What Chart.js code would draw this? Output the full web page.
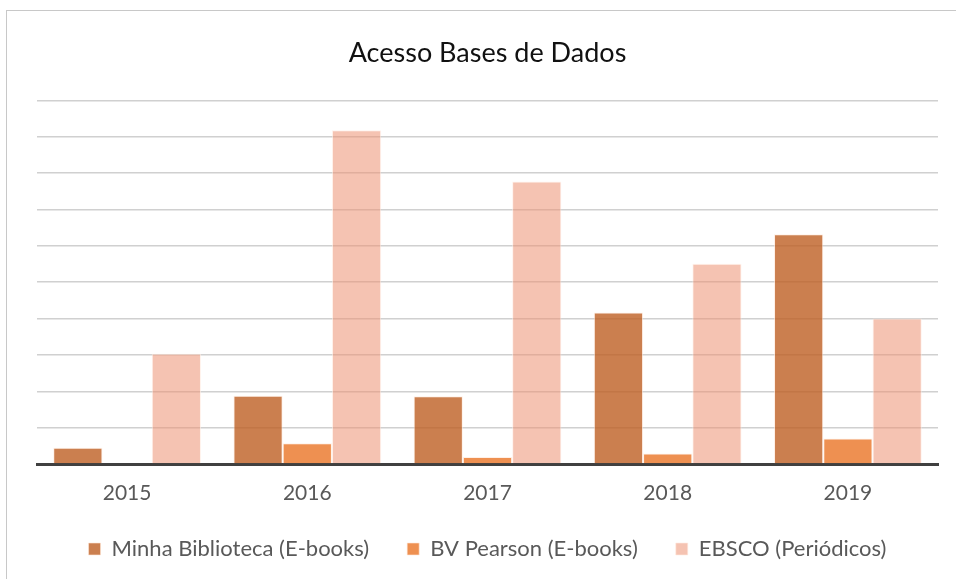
<!DOCTYPE html>
<html>
<head>
<meta charset="utf-8">
<script src="https://cdn.jsdelivr.net/npm/chart.js@4.4.0/dist/chart.umd.min.js"></script>
<style>
  html, body { margin: 0; padding: 0; background: #ffffff; overflow: hidden; }
  #frame { position: absolute; left: 6px; top: 10px; width: 980px; height: 600px; border: 1.5px solid #c8c8c8; box-sizing: border-box; }
  #wrap { position: absolute; left: 0; top: 0; width: 956px; height: 579px; }
</style>
</head>
<body>
<div id="frame"></div>
<div id="wrap"><canvas id="c" width="956" height="579"></canvas></div>
<script>
const categories = ['2015', '2016', '2017', '2018', '2019'];
const seriesNames = ['Minha Biblioteca (E-books)', 'BV Pearson (E-books)', 'EBSCO (Periódicos)'];
const minhaBiblioteca = [0.45, 1.88, 1.86, 4.17, 6.32];
const bvPearson = [0.02, 0.57, 0.19, 0.29, 0.70];
const ebsco = [3.03, 9.18, 7.77, 5.51, 4.00];
const chartTitle = 'Acesso Bases de Dados';

const FONT = 'Lato, "Open Sans", sans-serif';

new Chart(document.getElementById('c'), {
  type: 'bar',
  data: {
    labels: categories,
    datasets: [
      { label: seriesNames[0], data: minhaBiblioteca, backgroundColor: 'rgba(190,95,35,0.80)', borderColor: 'rgba(255,230,215,0.6)', borderWidth: 1 },
      { label: seriesNames[1], data: bvPearson, backgroundColor: 'rgba(235,125,50,0.85)', borderColor: 'rgba(255,230,215,0.6)', borderWidth: 1 },
      { label: seriesNames[2], data: ebsco, backgroundColor: 'rgba(236,145,115,0.55)', borderColor: 'rgba(255,235,225,0.6)', borderWidth: 1 }
    ]
  },
  options: {
    responsive: false,
    animation: false,
    devicePixelRatio: 1,
    layout: { padding: { left: 37, right: 18, top: 0, bottom: 9 } },
    datasets: { bar: { categoryPercentage: 0.82, barPercentage: 1.0 } },
    plugins: {
      title: {
        display: true,
        text: chartTitle,
        color: '#111111',
        font: { family: FONT, size: 27, weight: 'normal' },
        padding: { top: 37, bottom: 31 }
      },
      legend: {
        display: true,
        position: 'bottom',
        maxHeight: 70,
        labels: {
          color: '#595959',
          font: { family: FONT, size: 22 },
          boxWidth: 12,
          boxHeight: 12,
          padding: 38
        }
      },
      tooltip: { enabled: false }
    },
    scales: {
      x: {
        grid: { display: false, drawTicks: false },
        border: { display: true, color: '#404040', width: 3 },
        ticks: { color: '#595959', font: { family: FONT, size: 21 }, padding: 17 },
        afterFit: (axis) => { axis.height = 36; }
      },
      y: {
        min: 0, max: 10,
        ticks: { display: false, stepSize: 1 },
        grid: { color: '#d0d0d0', lineWidth: 1.5, drawTicks: false },
        border: { display: false }
      }
    }
  }
});
</script>
</body>
</html>
